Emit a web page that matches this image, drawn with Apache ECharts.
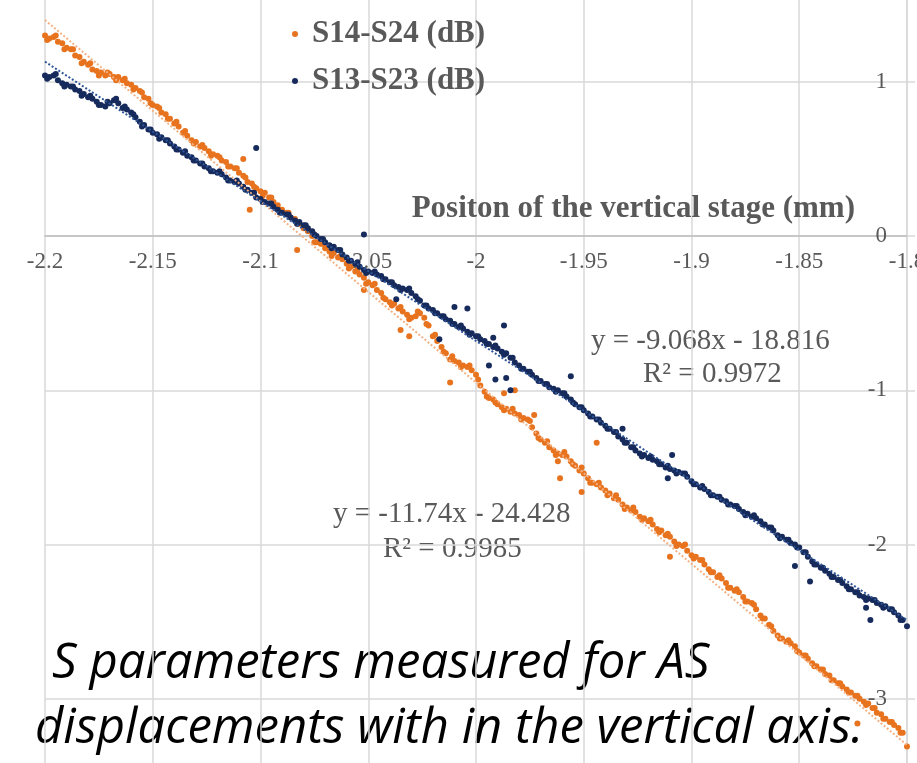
<!DOCTYPE html>
<html>
<head>
<meta charset="utf-8">
<script src="https://cdn.jsdelivr.net/npm/echarts@6/dist/echarts.min.js"></script>
<style>
  html, body { margin: 0; padding: 0; background: #fff; }
  #chart { width: 917px; height: 763px; }
</style>
</head>
<body>
<div id="chart"></div>
<script>
// stage position (mm)
const xs = [
  -2.2,-2.198,-2.196,-2.194,-2.192,-2.19,-2.188,-2.186,-2.184,-2.182,
  -2.18,-2.178,-2.176,-2.174,-2.172,-2.17,-2.168,-2.166,-2.164,-2.162,
  -2.16,-2.158,-2.156,-2.154,-2.152,-2.15,-2.148,-2.146,-2.144,-2.142,
  -2.14,-2.138,-2.136,-2.134,-2.132,-2.13,-2.128,-2.126,-2.124,-2.122,
  -2.12,-2.118,-2.116,-2.114,-2.112,-2.11,-2.108,-2.106,-2.104,-2.102,
  -2.1,-2.098,-2.096,-2.094,-2.092,-2.09,-2.088,-2.086,-2.084,-2.082,
  -2.08,-2.078,-2.076,-2.074,-2.072,-2.07,-2.068,-2.066,-2.064,-2.062,
  -2.06,-2.058,-2.056,-2.054,-2.052,-2.05,-2.048,-2.046,-2.044,-2.042,
  -2.04,-2.038,-2.036,-2.034,-2.032,-2.03,-2.028,-2.026,-2.024,-2.022,
  -2.02,-2.018,-2.016,-2.014,-2.012,-2.01,-2.008,-2.006,-2.004,-2.002,
  -2,-1.998,-1.996,-1.994,-1.992,-1.99,-1.988,-1.986,-1.984,-1.982,
  -1.98,-1.978,-1.976,-1.974,-1.972,-1.97,-1.968,-1.966,-1.964,-1.962,
  -1.96,-1.958,-1.956,-1.954,-1.952,-1.95,-1.948,-1.946,-1.944,-1.942,
  -1.94,-1.938,-1.936,-1.934,-1.932,-1.93,-1.928,-1.926,-1.924,-1.922,
  -1.92,-1.918,-1.916,-1.914,-1.912,-1.91,-1.908,-1.906,-1.904,-1.902,
  -1.9,-1.898,-1.896,-1.894,-1.892,-1.89,-1.888,-1.886,-1.884,-1.882,
  -1.88,-1.878,-1.876,-1.874,-1.872,-1.87,-1.868,-1.866,-1.864,-1.862,
  -1.86,-1.858,-1.856,-1.854,-1.852,-1.85,-1.848,-1.846,-1.844,-1.842,
  -1.84,-1.838,-1.836,-1.834,-1.832,-1.83,-1.828,-1.826,-1.824,-1.822,
  -1.82,-1.818,-1.816,-1.814,-1.812,-1.81,-1.808,-1.806,-1.804,-1.802,
  -1.8
]

// S14-S24 (dB)
const s14Y = [
  1.30,1.28,1.29,1.26,1.25,1.22,1.21,1.17,1.16,1.13,
  1.11,1.08,1.07,1.06,1.04,1.05,1.03,1.03,1.01,0.99,
  0.98,0.96,0.94,0.90,0.89,0.85,0.84,0.80,0.79,0.76,
  0.73,0.71,0.67,0.65,0.62,0.61,0.58,0.57,0.55,0.53,
  0.52,0.49,0.48,0.45,0.44,0.41,0.39,0.35,0.34,0.31,
  0.29,0.28,0.25,0.22,0.20,0.17,0.15,0.12,0.11,0.08,
  0.05,0.03,0.00,-0.04,-0.05,-0.08,-0.10,-0.11,-0.14,-0.15,
  -0.18,-0.20,-0.23,-0.25,-0.27,-0.30,-0.32,-0.35,-0.37,-0.41,
  -0.43,-0.44,-0.47,-0.49,-0.51,-0.53,-0.52,-0.50,-0.53,-0.58,
  -0.65,-0.68,-0.72,-0.76,-0.80,-0.81,-0.82,-0.84,-0.85,-0.87,
  -0.90,-0.97,-1.01,-1.05,-1.06,-1.09,-1.11,-1.12,-1.14,-1.15,
  -1.16,-1.18,-1.19,-1.24,-1.28,-1.32,-1.34,-1.37,-1.39,-1.41,
  -1.42,-1.43,-1.46,-1.49,-1.52,-1.54,-1.57,-1.60,-1.61,-1.63,
  -1.65,-1.67,-1.70,-1.71,-1.74,-1.76,-1.78,-1.79,-1.82,-1.83,
  -1.85,-1.87,-1.90,-1.91,-1.94,-1.95,-1.98,-2.00,-2.01,-2.04,
  -2.07,-2.08,-2.10,-2.13,-2.16,-2.18,-2.21,-2.22,-2.25,-2.28,
  -2.30,-2.31,-2.34,-2.37,-2.38,-2.42,-2.46,-2.48,-2.52,-2.56,
  -2.59,-2.61,-2.63,-2.64,-2.66,-2.70,-2.72,-2.74,-2.77,-2.79,
  -2.81,-2.84,-2.85,-2.88,-2.90,-2.92,-2.94,-2.96,-2.98,-3.00,
  -3.02,-3.03,-3.06,-3.09,-3.10,-3.13,-3.15,-3.17,-3.19,-3.22,
  -3.31
]

// S13-S23 (dB)
const s13Y = [
  1.04,1.03,1.04,1.01,0.99,0.98,0.97,0.95,0.94,0.92,
  0.90,0.89,0.87,0.85,0.84,0.86,0.88,0.86,0.83,0.82,
  0.80,0.77,0.74,0.72,0.69,0.67,0.66,0.64,0.62,0.60,
  0.58,0.56,0.54,0.52,0.51,0.49,0.47,0.45,0.44,0.42,
  0.41,0.40,0.38,0.36,0.35,0.34,0.32,0.30,0.28,0.25,
  0.24,0.22,0.21,0.19,0.17,0.15,0.14,0.12,0.10,0.09,
  0.07,0.05,0.03,0.00,-0.02,-0.04,-0.06,-0.07,-0.09,-0.12,
  -0.14,-0.16,-0.18,-0.20,-0.22,-0.23,-0.24,-0.25,-0.26,-0.28,
  -0.30,-0.32,-0.33,-0.34,-0.35,-0.37,-0.39,-0.42,-0.45,-0.47,
  -0.48,-0.50,-0.52,-0.54,-0.55,-0.57,-0.59,-0.60,-0.62,-0.63,
  -0.65,-0.67,-0.68,-0.70,-0.72,-0.73,-0.75,-0.76,-0.79,-0.82,
  -0.84,-0.86,-0.88,-0.90,-0.92,-0.94,-0.96,-0.98,-0.99,-1.00,
  -1.02,-1.04,-1.06,-1.09,-1.11,-1.13,-1.15,-1.17,-1.19,-1.21,
  -1.23,-1.25,-1.27,-1.30,-1.32,-1.34,-1.37,-1.39,-1.41,-1.42,
  -1.44,-1.45,-1.46,-1.48,-1.50,-1.51,-1.52,-1.53,-1.54,-1.56,
  -1.59,-1.61,-1.63,-1.64,-1.66,-1.68,-1.69,-1.71,-1.72,-1.74,
  -1.75,-1.77,-1.79,-1.80,-1.82,-1.83,-1.85,-1.87,-1.89,-1.91,
  -1.94,-1.95,-1.97,-1.99,-2.00,-2.02,-2.05,-2.08,-2.11,-2.13,
  -2.15,-2.17,-2.19,-2.21,-2.23,-2.25,-2.27,-2.29,-2.31,-2.33,
  -2.34,-2.35,-2.36,-2.38,-2.39,-2.40,-2.42,-2.44,-2.46,-2.49,
  -2.53
]

// second sweep, between the first one's positions
const xs2 = [
  -2.199,-2.195,-2.191,-2.187,-2.183,-2.179,-2.175,-2.171,-2.167,-2.163,
  -2.159,-2.155,-2.151,-2.147,-2.143,-2.139,-2.135,-2.131,-2.127,-2.123,
  -2.119,-2.115,-2.111,-2.107,-2.103,-2.099,-2.095,-2.091,-2.087,-2.083,
  -2.079,-2.075,-2.071,-2.067,-2.063,-2.059,-2.055,-2.051,-2.047,-2.043,
  -2.039,-2.035,-2.031,-2.027,-2.023,-2.019,-2.015,-2.011,-2.007,-2.003,
  -1.999,-1.995,-1.991,-1.987,-1.983,-1.979,-1.975,-1.971,-1.967,-1.963,
  -1.959,-1.955,-1.951,-1.947,-1.943,-1.939,-1.935,-1.931,-1.927,-1.923,
  -1.919,-1.915,-1.911,-1.907,-1.903,-1.899,-1.895,-1.891,-1.887,-1.883,
  -1.879,-1.875,-1.871,-1.867,-1.863,-1.859,-1.855,-1.851,-1.847,-1.843,
  -1.839,-1.835,-1.831,-1.827,-1.823,-1.819,-1.815,-1.811,-1.807,-1.803
]
const s14Y2 = [
  1.27,1.30,1.21,1.21,1.12,1.12,1.04,1.06,1.01,1.02,
  0.95,0.93,0.86,0.83,0.76,0.74,0.68,0.60,0.59,0.52,
  0.51,0.45,0.44,0.38,0.32,0.26,0.25,0.17,0.15,0.08,
  0.06,-0.04,-0.05,-0.13,-0.13,-0.21,-0.22,-0.31,-0.31,-0.40,
  -0.45,-0.46,-0.54,-0.49,-0.57,-0.64,-0.75,-0.78,-0.85,-0.84,
  -0.93,-1.04,-1.08,-1.13,-1.12,-1.19,-1.20,-1.31,-1.33,-1.42,
  -1.40,-1.48,-1.50,-1.60,-1.60,-1.68,-1.68,-1.77,-1.76,-1.84,
  -1.84,-1.92,-1.93,-2.01,-2.00,-2.09,-2.10,-2.18,-2.20,-2.28,
  -2.29,-2.37,-2.39,-2.48,-2.53,-2.61,-2.62,-2.69,-2.72,-2.79,
  -2.81,-2.88,-2.90,-2.96,-2.98,-3.04,-3.06,-3.13,-3.15,-3.22
]
const s13Y2 = [
  1.02,1.05,0.97,0.97,0.91,0.91,0.85,0.87,0.89,0.84,
  0.79,0.71,0.69,0.63,0.62,0.56,0.55,0.49,0.47,0.42,
  0.42,0.36,0.36,0.30,0.28,0.22,0.21,0.15,0.14,0.08,
  0.07,0.01,-0.02,-0.08,-0.09,-0.16,-0.17,-0.24,-0.23,-0.28,
  -0.30,-0.35,-0.34,-0.41,-0.45,-0.50,-0.52,-0.57,-0.58,-0.64,
  -0.65,-0.70,-0.71,-0.77,-0.79,-0.86,-0.88,-0.94,-0.96,-1.01,
  -1.02,-1.08,-1.11,-1.17,-1.19,-1.25,-1.27,-1.34,-1.37,-1.43,
  -1.43,-1.48,-1.49,-1.54,-1.54,-1.61,-1.62,-1.68,-1.69,-1.74,
  -1.75,-1.81,-1.81,-1.87,-1.89,-1.96,-1.97,-2.02,-2.05,-2.13,
  -2.15,-2.21,-2.23,-2.29,-2.31,-2.36,-2.36,-2.41,-2.42,-2.49
]

// stray points off the main band
const s14ExtraX = [-2.108,-2.105,-2.083,-2.052,-2.035,-2.031,-2.012,-1.987,-1.982,-1.973,-1.962,-1.961,-1.951,-1.944,-1.91,-1.823]
const s14ExtraY = [0.50,0.17,-0.09,-0.35,-0.61,-0.65,-0.95,-1.02,-1.00,-1.16,-1.46,-1.57,-1.66,-1.34,-2.08,-3.16]
const s13ExtraX = [-2.102,-2.052,-2.037,-2.017,-2.01,-2.004,-1.992,-1.994,-1.991,-1.987,-1.986,-1.984,-1.956,-1.932,-1.909,-1.911,-1.852,-1.845,-1.819,-1.817]
const s13ExtraY = [0.57,0.01,-0.41,-0.67,-0.46,-0.47,-0.66,-0.84,-0.93,-0.58,-0.92,-1.00,-0.91,-1.25,-1.42,-1.57,-2.14,-2.24,-2.41,-2.49]

// linear trendlines, end points
const trendX = [-2.2, -1.8]
const s14TrendY = [1.40, -3.30]
const s13TrendY = [1.13, -2.49]

const xTicks = [-2.2, -2.15, -2.1, -2.05, -2, -1.95, -1.9, -1.85, -1.8]
const yTicks = [-3, -2, -1, 0, 1]

const zip = (a, b) => a.map((v, i) => [v, b[i]])

const grey = '#595959'
const serif = '"Liberation Serif", "Times New Roman", serif'
const captionFont = 'italic 49px "Open Sans", Lato, sans-serif'

let chart = echarts.init(document.getElementById('chart'))

let option = {
  animation: false,
  backgroundColor: '#fff',
  grid: {
    left: 45,
    right: 10,
    top: -72.5,
    bottom: -90,
    containLabel: false,
    outerBoundsMode: 'none'
  },
  legend: {
    data: ['S14-S24 (dB)', 'S13-S23 (dB)'],
    orient: 'vertical',
    left: 292,
    top: 17,
    padding: 0,
    itemWidth: 24,
    itemHeight: 6,
    itemGap: 13,
    icon: 'circle',
    textStyle: {
      fontFamily: serif,
      fontWeight: 'bold',
      fontSize: 31,
      lineHeight: 34,
      color: grey
    }
  },
  xAxis: {
    type: 'value',
    min: -2.2,
    max: -1.8,
    interval: 0.05,
    position: 'bottom',
    // grid bottom sits below the picture; pull the axis up to y = 0
    offset: -617,
    name: 'Positon of the vertical stage (mm)',
    nameLocation: 'end',
    nameGap: -52,
    nameTextStyle: {
      fontFamily: serif,
      fontWeight: 'bold',
      fontSize: 31,
      color: grey,
      align: 'right',
      verticalAlign: 'bottom',
      padding: [0, 0, 12, 0]
    },
    axisLine: { onZero: false, lineStyle: { color: '#bfbfbf', width: 1.5 } },
    axisTick: { show: false },
    axisLabel: {
      fontFamily: serif,
      fontSize: 23,
      color: grey,
      margin: 14,
      formatter: v => xTicks.some(t => Math.abs(t - v) < 1e-6) ? String(+v.toFixed(2)) : ''
    },
    splitLine: { lineStyle: { color: '#d9d9d9', width: 1.5 } }
  },
  yAxis: {
    type: 'value',
    position: 'right',
    min: -4,
    max: 2,
    interval: 1,
    axisLine: { show: true, onZero: false, lineStyle: { color: '#d9d9d9', width: 1.5 } },
    axisTick: { show: true, inside: false, length: 8, lineStyle: { color: '#d9d9d9', width: 1.5 } },
    axisLabel: {
      inside: true,
      fontFamily: serif,
      fontSize: 23,
      color: grey,
      margin: 20,
      formatter: v => yTicks.includes(v) ? String(v) : ''
    },
    splitLine: { lineStyle: { color: '#d9d9d9', width: 1.5 } }
  },
  series: [
    {
      name: 'S14-S24 (dB)',
      type: 'scatter',
      symbolSize: 6,
      itemStyle: { color: '#E8731F', opacity: 1 },
      data: zip(xs, s14Y).concat(zip(xs2, s14Y2), zip(s14ExtraX, s14ExtraY))
    },
    {
      name: 'S13-S23 (dB)',
      type: 'scatter',
      symbolSize: 6,
      itemStyle: { color: '#162B5C', opacity: 1 },
      data: zip(xs, s13Y).concat(zip(xs2, s13Y2), zip(s13ExtraX, s13ExtraY))
    },
    {
      name: 'trend S14',
      type: 'line',
      symbol: 'none',
      lineStyle: { color: '#F4B183', width: 2, type: 'dotted' },
      data: zip(trendX, s14TrendY)
    },
    {
      name: 'trend S13',
      type: 'line',
      symbol: 'none',
      lineStyle: { color: '#2F5597', width: 2, type: 'dotted' },
      data: zip(trendX, s13TrendY)
    }
  ],
  graphic: [
    { type: 'text', left: 591, top: 327, style: { text: 'y = -9.068x - 18.816', font: '29px ' + serif, fill: grey } },
    { type: 'text', left: 643, top: 360, style: { text: 'R² = 0.9972', font: '29px ' + serif, fill: grey } },
    { type: 'text', left: 333, top: 500, style: { text: 'y = -11.74x - 24.428', font: '29px ' + serif, fill: grey } },
    { type: 'text', left: 383, top: 535, style: { text: 'R² = 0.9985', font: '29px ' + serif, fill: grey } },
    { type: 'text', left: 52, top: 640, style: { text: 'S parameters measured for AS', font: captionFont, fill: '#000' } },
    { type: 'text', left: 35, top: 705, style: { text: 'displacements with in the vertical axis.', font: captionFont, fill: '#000' } }
  ]
}

chart.setOption(option)
</script>
</body>
</html>
